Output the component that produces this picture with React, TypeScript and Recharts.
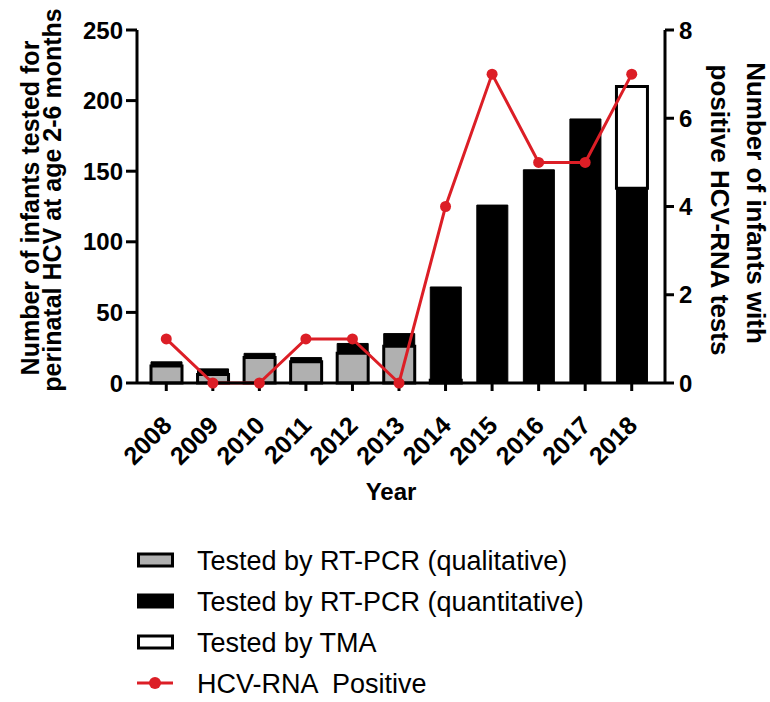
import React from 'react';
import { ComposedChart, Bar, Line, XAxis, YAxis } from 'recharts';

const years = ['2008', '2009', '2010', '2011', '2012', '2013', '2014', '2015', '2016', '2017', '2018'];
const qualitative = [12, 6, 18, 15, 21, 26, 2, 0, 0, 0, 0];
const quantitative = [3, 4, 3, 3, 7, 9, 66, 126, 151, 187, 138];
const tma = [0, 0, 0, 0, 0, 0, 0, 0, 0, 0, 72];
const positives = [1, 0, 0, 1, 1, 0, 4, 7, 5, 5, 7];
const leftTicks = [0, 50, 100, 150, 200, 250];
const rightTicks = [0, 2, 4, 6, 8];

const data = years.map((year, i) => ({
  year,
  qualitative: qualitative[i],
  quantitative: quantitative[i],
  tma: tma[i],
  positive: positives[i],
}));

const FONT = '"Liberation Sans", Arial, Helvetica, sans-serif';
const RED = '#dc1e26';
const GRAY = '#b0b0b0';

const XTick = (props: any) => {
  const { x, y, payload } = props;
  const ax = x + 7;
  const ay = y + 34;
  return (
    <text
      x={ax}
      y={ay}
      transform={`rotate(-45, ${ax}, ${ay})`}
      textAnchor="end"
      fontFamily={FONT}
      fontWeight="bold"
      fontSize={25}
      fill="#000"
    >
      {payload.value}
    </text>
  );
};

const LeftTitle = () => (
  <g fontFamily={FONT} fontWeight="bold" fontSize={25} fill="#000">
    <text x={39} y={208} transform="rotate(-90, 39, 208)" textAnchor="middle">
      Number of infants tested for
    </text>
    <text x={61} y={200} transform="rotate(-90, 61, 200)" textAnchor="middle">
      perinatal HCV at age 2-6 months
    </text>
  </g>
);

const RightTitle = () => (
  <g fontFamily={FONT} fontWeight="bold" fontSize={26} fill="#000">
    <text x={747} y={203} transform="rotate(90, 747, 203)" textAnchor="middle">
      Number of infants with
    </text>
    <text x={711} y={210} transform="rotate(90, 711, 210)" textAnchor="middle">
      positive HCV-RNA tests
    </text>
  </g>
);

const YearLabel = () => (
  <text x={391} y={500} textAnchor="middle" fontFamily={FONT} fontWeight="bold" fontSize={24} fill="#000">
    Year
  </text>
);

const legendItems = [
  { label: 'Tested by RT-PCR (qualitative)', kind: 'qual' },
  { label: 'Tested by RT-PCR (quantitative)', kind: 'quant' },
  { label: 'Tested by TMA', kind: 'tma' },
  { label: 'HCV-RNA  Positive', kind: 'line' },
];

const LegendBlock = () => (
  <svg width={770} height={180} style={{ position: 'absolute', left: 0, top: 522 }}>
    {legendItems.map((item, i) => {
      const cy = 38 + i * 41;
      let swatch;
      if (item.kind === 'line') {
        swatch = (
          <g>
            <line x1={137} x2={173} y1={cy} y2={cy} stroke={RED} strokeWidth={3} />
            <circle cx={155} cy={cy} r={6} fill={RED} />
          </g>
        );
      } else {
        const fill = item.kind === 'qual' ? GRAY : item.kind === 'quant' ? '#000' : '#fff';
        swatch = <rect x={138.5} y={cy - 6} width={34} height={12} fill={fill} stroke="#000" strokeWidth={3} />;
      }
      return (
        <g key={item.label}>
          {swatch}
          <text
            x={197}
            y={cy}
            dy="0.36em"
            fontFamily={FONT}
            fontSize={27}
            fill="#000"
            style={{ whiteSpace: 'pre' }}
          >
            {item.label}
          </text>
        </g>
      );
    })}
  </svg>
);

export default function App() {
  return (
    <div style={{ position: 'absolute', left: 0, top: 0, width: 770, height: 702, background: '#fff' }}>
      <ComposedChart
        width={770}
        height={520}
        data={data}
        margin={{ top: 30, right: 0, bottom: 37, left: 0 }}
        barSize={31}
      >
        <XAxis
          dataKey="year"
          interval={0}
          height={100}
          padding={{ left: 6, right: 10 }}
          tick={<XTick />}
          tickSize={8}
          axisLine={{ stroke: '#000', strokeWidth: 3 }}
          tickLine={{ stroke: '#000', strokeWidth: 3 }}
          label={<YearLabel />}
        />
        <YAxis
          yAxisId="left"
          domain={[0, 250]}
          ticks={leftTicks}
          width={137}
          tickSize={11}
          tickMargin={3}
          axisLine={{ stroke: '#000', strokeWidth: 3 }}
          tickLine={{ stroke: '#000', strokeWidth: 3 }}
          tick={{ fontFamily: FONT, fontWeight: 'bold', fontSize: 24, fill: '#000' }}
          label={<LeftTitle />}
        />
        <YAxis
          yAxisId="right"
          orientation="right"
          domain={[0, 8]}
          ticks={rightTicks}
          width={105}
          tickSize={9}
          tickMargin={5}
          axisLine={{ stroke: '#000', strokeWidth: 3 }}
          tickLine={{ stroke: '#000', strokeWidth: 3 }}
          tick={{ fontFamily: FONT, fontWeight: 'bold', fontSize: 24, fill: '#000' }}
          label={<RightTitle />}
        />
        <Bar yAxisId="left" dataKey="qualitative" stackId="a" fill={GRAY} stroke="#000" strokeWidth={3} isAnimationActive={false} />
        <Bar yAxisId="left" dataKey="quantitative" stackId="a" fill="#000" stroke="#000" strokeWidth={1} isAnimationActive={false} />
        <Bar yAxisId="left" dataKey="tma" stackId="a" fill="#fff" stroke="#000" strokeWidth={3} isAnimationActive={false} />
        <Line
          yAxisId="right"
          dataKey="positive"
          stroke={RED}
          strokeWidth={3}
          dot={{ r: 5.5, fill: RED, stroke: RED, strokeWidth: 0 }}
          isAnimationActive={false}
        />
      </ComposedChart>
      <LegendBlock />
    </div>
  );
}
